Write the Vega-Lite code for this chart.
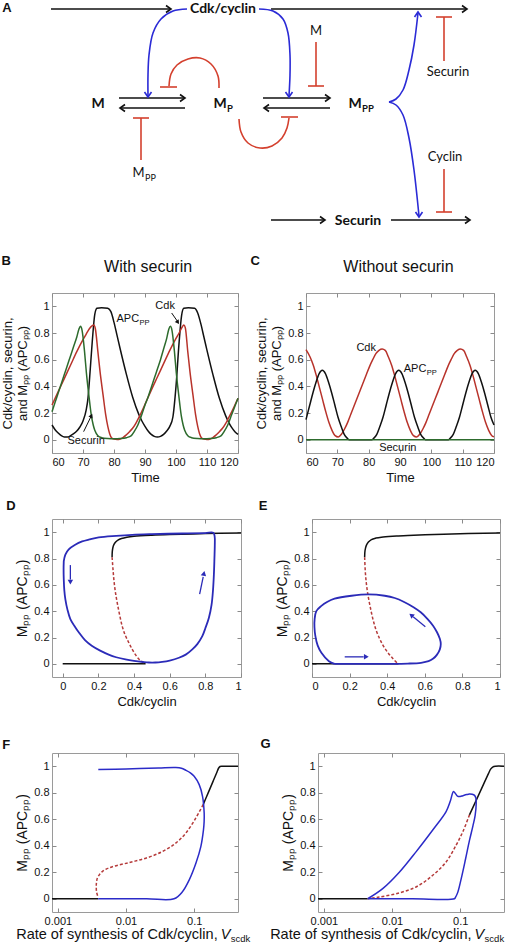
{
"$schema":"https://vega.github.io/schema/vega-lite/v6.json",
"padding":0,
"background":"white",
"config":{
 "font":"Liberation Sans",
 "view":{"stroke":"#9a9a9a","strokeWidth":1},
 "axis":{"domain":false,"grid":false,"tickSize":-4,"tickColor":"#8a8a8a","tickWidth":1,"labelPadding":7,"labelFont":"Liberation Sans","labelFontSize":11,"labelColor":"#111","titleFont":"Liberation Sans","titleFontSize":13,"titleFontWeight":"normal","titleColor":"#111","titlePadding":4},
 "text":{"font":"Liberation Sans","fontSize":11,"color":"#111"}
},
"datasets":{
 "diagLines":[
  {"id":"f1","i":0,"x":50,"y":9,"k":"flow"},{"id":"f1","i":1,"x":170,"y":9,"k":"flow"},
  {"id":"f2","i":0,"x":270,"y":9,"k":"flow"},{"id":"f2","i":1,"x":466,"y":9,"k":"flow"},
  {"id":"f3","i":0,"x":118,"y":98,"k":"flow"},{"id":"f3","i":1,"x":184,"y":98,"k":"flow"},
  {"id":"f4","i":0,"x":184,"y":108,"k":"flow"},{"id":"f4","i":1,"x":119,"y":108,"k":"flow"},
  {"id":"f5","i":0,"x":262,"y":98,"k":"flow"},{"id":"f5","i":1,"x":329,"y":98,"k":"flow"},
  {"id":"f6","i":0,"x":329,"y":108,"k":"flow"},{"id":"f6","i":1,"x":263,"y":108,"k":"flow"},
  {"id":"f7","i":0,"x":270,"y":220,"k":"flow"},{"id":"f7","i":1,"x":324,"y":220,"k":"flow"},
  {"id":"f8","i":0,"x":390,"y":220,"k":"flow"},{"id":"f8","i":1,"x":469,"y":220,"k":"flow"},
  {"id":"a1","i":0,"x":186,"y":9,"k":"act"},{"id":"a1","i":1,"x":172,"y":11,"k":"act"},{"id":"a1","i":2,"x":160,"y":19,"k":"act"},{"id":"a1","i":3,"x":152,"y":33,"k":"act"},{"id":"a1","i":4,"x":148,"y":55,"k":"act"},{"id":"a1","i":5,"x":147,"y":75,"k":"act"},{"id":"a1","i":6,"x":147,"y":96,"k":"act"},
  {"id":"a2","i":0,"x":258,"y":9,"k":"act"},{"id":"a2","i":1,"x":272,"y":11,"k":"act"},{"id":"a2","i":2,"x":282,"y":19,"k":"act"},{"id":"a2","i":3,"x":287,"y":33,"k":"act"},{"id":"a2","i":4,"x":289,"y":55,"k":"act"},{"id":"a2","i":5,"x":289,"y":75,"k":"act"},{"id":"a2","i":6,"x":288,"y":96,"k":"act"},
  {"id":"a3","i":0,"x":388,"y":102,"k":"act"},{"id":"a3","i":1,"x":395,"y":99,"k":"act"},{"id":"a3","i":2,"x":402,"y":90,"k":"act"},{"id":"a3","i":3,"x":408,"y":70,"k":"act"},{"id":"a3","i":4,"x":413,"y":45,"k":"act"},{"id":"a3","i":5,"x":417,"y":13,"k":"act"},
  {"id":"a4","i":0,"x":388,"y":102,"k":"act"},{"id":"a4","i":1,"x":395,"y":105,"k":"act"},{"id":"a4","i":2,"x":402,"y":115,"k":"act"},{"id":"a4","i":3,"x":408,"y":138,"k":"act"},{"id":"a4","i":4,"x":413,"y":170,"k":"act"},{"id":"a4","i":5,"x":418,"y":216,"k":"act"},
  {"id":"r1","i":0,"x":218,"y":88,"k":"inh"},{"id":"r1","i":1,"x":217,"y":76,"k":"inh"},{"id":"r1","i":2,"x":210,"y":64,"k":"inh"},{"id":"r1","i":3,"x":199,"y":58,"k":"inh"},{"id":"r1","i":4,"x":187,"y":59,"k":"inh"},{"id":"r1","i":5,"x":176,"y":65,"k":"inh"},{"id":"r1","i":6,"x":170,"y":74,"k":"inh"},{"id":"r1","i":7,"x":168,"y":86,"k":"inh"},
  {"id":"r1b","i":0,"x":159,"y":87,"k":"inh"},{"id":"r1b","i":1,"x":176,"y":87,"k":"inh"},
  {"id":"r2","i":0,"x":238,"y":119,"k":"inh"},{"id":"r2","i":1,"x":240,"y":132,"k":"inh"},{"id":"r2","i":2,"x":247,"y":143,"k":"inh"},{"id":"r2","i":3,"x":259,"y":148,"k":"inh"},{"id":"r2","i":4,"x":271,"y":146,"k":"inh"},{"id":"r2","i":5,"x":281,"y":138,"k":"inh"},{"id":"r2","i":6,"x":286,"y":128,"k":"inh"},{"id":"r2","i":7,"x":288,"y":118,"k":"inh"},
  {"id":"r2b","i":0,"x":280,"y":117,"k":"inh"},{"id":"r2b","i":1,"x":297,"y":117,"k":"inh"},
  {"id":"r3","i":0,"x":315,"y":42,"k":"inh"},{"id":"r3","i":1,"x":315,"y":86,"k":"inh"},
  {"id":"r3b","i":0,"x":307,"y":86,"k":"inh"},{"id":"r3b","i":1,"x":323,"y":86,"k":"inh"},
  {"id":"r4","i":0,"x":140,"y":160,"k":"inh"},{"id":"r4","i":1,"x":140,"y":118,"k":"inh"},
  {"id":"r4b","i":0,"x":132,"y":118,"k":"inh"},{"id":"r4b","i":1,"x":148,"y":118,"k":"inh"},
  {"id":"r5","i":0,"x":443,"y":61,"k":"inh"},{"id":"r5","i":1,"x":443,"y":17,"k":"inh"},
  {"id":"r5b","i":0,"x":435,"y":17,"k":"inh"},{"id":"r5b","i":1,"x":451,"y":17,"k":"inh"},
  {"id":"r6","i":0,"x":443,"y":169,"k":"inh"},{"id":"r6","i":1,"x":443,"y":212,"k":"inh"},
  {"id":"r6b","i":0,"x":435,"y":212,"k":"inh"},{"id":"r6b","i":1,"x":451,"y":212,"k":"inh"}
 ],
 "diagHeads":[
  {"x":170,"y":9,"d":"right"},{"x":466,"y":9,"d":"right"},{"x":184,"y":98,"d":"right"},{"x":329,"y":98,"d":"right"},{"x":324,"y":220,"d":"right"},{"x":469,"y":220,"d":"right"},
  {"x":119,"y":108,"d":"left"},{"x":263,"y":108,"d":"left"},
  {"x":147,"y":97,"d":"down"},{"x":288,"y":97,"d":"down"},{"x":418,"y":217,"d":"down"},
  {"x":417,"y":12,"d":"up"}
 ],
 "diagBold":[{"x":222,"y":9,"txt":"Cdk/cyclin"},{"x":97,"y":104,"txt":"M"},{"x":219,"y":104,"txt":"M"},{"x":354,"y":104,"txt":"M"},{"x":357,"y":221,"txt":"Securin"}],
 "diagBoldSub":[{"x":226,"y":108.5,"txt":"P"},{"x":361,"y":108.5,"txt":"PP"}],
 "diagReg":[{"x":315,"y":31,"txt":"M"},{"x":137.5,"y":173,"txt":"M"},{"x":447,"y":72,"txt":"Securin"},{"x":444,"y":157,"txt":"Cyclin"}],
 "diagRegSub":[{"x":144,"y":178,"txt":"PP"}],
 "bTS":[
  {"t":60,"v":0.11,"s":"APC"},{"t":61,"v":0.075,"s":"APC"},{"t":62,"v":0.05,"s":"APC"},{"t":63,"v":0.03,"s":"APC"},{"t":64,"v":0.02,"s":"APC"},{"t":65,"v":0.02,"s":"APC"},{"t":66,"v":0.03,"s":"APC"},{"t":67,"v":0.045,"s":"APC"},{"t":68,"v":0.065,"s":"APC"},{"t":69,"v":0.095,"s":"APC"},{"t":70,"v":0.14,"s":"APC"},{"t":71,"v":0.22,"s":"APC"},{"t":71.6,"v":0.31,"s":"APC"},{"t":72,"v":0.42,"s":"APC"},{"t":73,"v":0.74,"s":"APC"},{"t":73.8,"v":0.94,"s":"APC"},{"t":74.5,"v":0.985,"s":"APC"},{"t":76,"v":0.99,"s":"APC"},{"t":78,"v":0.985,"s":"APC"},{"t":79,"v":0.96,"s":"APC"},{"t":80,"v":0.88,"s":"APC"},{"t":81,"v":0.78,"s":"APC"},{"t":82,"v":0.68,"s":"APC"},{"t":84,"v":0.49,"s":"APC"},{"t":86,"v":0.32,"s":"APC"},{"t":88,"v":0.19,"s":"APC"},{"t":89,"v":0.14,"s":"APC"},{"t":90,"v":0.1,"s":"APC"},{"t":91,"v":0.065,"s":"APC"},{"t":92,"v":0.04,"s":"APC"},{"t":93,"v":0.025,"s":"APC"},{"t":94,"v":0.02,"s":"APC"},{"t":95,"v":0.025,"s":"APC"},{"t":96,"v":0.04,"s":"APC"},{"t":97,"v":0.065,"s":"APC"},{"t":98,"v":0.1,"s":"APC"},{"t":99,"v":0.17,"s":"APC"},{"t":100,"v":0.4,"s":"APC"},{"t":101,"v":0.73,"s":"APC"},{"t":101.8,"v":0.93,"s":"APC"},{"t":102.5,"v":0.985,"s":"APC"},{"t":104,"v":0.99,"s":"APC"},{"t":106,"v":0.985,"s":"APC"},{"t":107,"v":0.95,"s":"APC"},{"t":108,"v":0.87,"s":"APC"},{"t":109,"v":0.77,"s":"APC"},{"t":110,"v":0.67,"s":"APC"},{"t":112,"v":0.48,"s":"APC"},{"t":114,"v":0.31,"s":"APC"},{"t":116,"v":0.18,"s":"APC"},{"t":117,"v":0.13,"s":"APC"},{"t":118,"v":0.09,"s":"APC"},{"t":119,"v":0.06,"s":"APC"},{"t":120,"v":0.04,"s":"APC"},
  {"t":60,"v":0.26,"s":"Cdk"},{"t":62,"v":0.36,"s":"Cdk"},{"t":64,"v":0.46,"s":"Cdk"},{"t":66,"v":0.56,"s":"Cdk"},{"t":68,"v":0.66,"s":"Cdk"},{"t":70,"v":0.75,"s":"Cdk"},{"t":71,"v":0.79,"s":"Cdk"},{"t":72,"v":0.83,"s":"Cdk"},{"t":73,"v":0.855,"s":"Cdk"},{"t":73.5,"v":0.86,"s":"Cdk"},{"t":74,"v":0.83,"s":"Cdk"},{"t":74.8,"v":0.66,"s":"Cdk"},{"t":75.5,"v":0.51,"s":"Cdk"},{"t":76.5,"v":0.33,"s":"Cdk"},{"t":77.3,"v":0.19,"s":"Cdk"},{"t":78,"v":0.1,"s":"Cdk"},{"t":78.6,"v":0.045,"s":"Cdk"},{"t":79.2,"v":0.015,"s":"Cdk"},{"t":80,"v":0.004,"s":"Cdk"},{"t":81,"v":0.001,"s":"Cdk"},{"t":82,"v":0.005,"s":"Cdk"},{"t":83,"v":0.017,"s":"Cdk"},{"t":84,"v":0.037,"s":"Cdk"},{"t":85,"v":0.06,"s":"Cdk"},{"t":86,"v":0.085,"s":"Cdk"},{"t":87,"v":0.12,"s":"Cdk"},{"t":88,"v":0.165,"s":"Cdk"},{"t":90,"v":0.265,"s":"Cdk"},{"t":92,"v":0.37,"s":"Cdk"},{"t":94,"v":0.47,"s":"Cdk"},{"t":96,"v":0.57,"s":"Cdk"},{"t":98,"v":0.67,"s":"Cdk"},{"t":100,"v":0.76,"s":"Cdk"},{"t":101,"v":0.8,"s":"Cdk"},{"t":102,"v":0.845,"s":"Cdk"},{"t":102.5,"v":0.86,"s":"Cdk"},{"t":103,"v":0.84,"s":"Cdk"},{"t":103.8,"v":0.66,"s":"Cdk"},{"t":104.5,"v":0.51,"s":"Cdk"},{"t":105.5,"v":0.33,"s":"Cdk"},{"t":106.3,"v":0.19,"s":"Cdk"},{"t":107,"v":0.1,"s":"Cdk"},{"t":107.6,"v":0.045,"s":"Cdk"},{"t":108.2,"v":0.015,"s":"Cdk"},{"t":109,"v":0.004,"s":"Cdk"},{"t":110,"v":0.001,"s":"Cdk"},{"t":111,"v":0.005,"s":"Cdk"},{"t":112,"v":0.017,"s":"Cdk"},{"t":113,"v":0.037,"s":"Cdk"},{"t":114,"v":0.06,"s":"Cdk"},{"t":115,"v":0.085,"s":"Cdk"},{"t":116,"v":0.12,"s":"Cdk"},{"t":117,"v":0.165,"s":"Cdk"},{"t":118,"v":0.21,"s":"Cdk"},{"t":119,"v":0.26,"s":"Cdk"},{"t":120,"v":0.31,"s":"Cdk"},
  {"t":60,"v":0.21,"s":"Securin"},{"t":61,"v":0.28,"s":"Securin"},{"t":62,"v":0.35,"s":"Securin"},{"t":63,"v":0.42,"s":"Securin"},{"t":64,"v":0.49,"s":"Securin"},{"t":65,"v":0.56,"s":"Securin"},{"t":66,"v":0.63,"s":"Securin"},{"t":67,"v":0.7,"s":"Securin"},{"t":68,"v":0.77,"s":"Securin"},{"t":68.7,"v":0.83,"s":"Securin"},{"t":69.2,"v":0.85,"s":"Securin"},{"t":69.7,"v":0.82,"s":"Securin"},{"t":70.5,"v":0.66,"s":"Securin"},{"t":71.1,"v":0.5,"s":"Securin"},{"t":71.6,"v":0.39,"s":"Securin"},{"t":72.2,"v":0.27,"s":"Securin"},{"t":72.7,"v":0.18,"s":"Securin"},{"t":73.3,"v":0.11,"s":"Securin"},{"t":73.8,"v":0.07,"s":"Securin"},{"t":74.8,"v":0.03,"s":"Securin"},{"t":76,"v":0.015,"s":"Securin"},{"t":78,"v":0.008,"s":"Securin"},{"t":80,"v":0.006,"s":"Securin"},{"t":82,"v":0.008,"s":"Securin"},{"t":84,"v":0.015,"s":"Securin"},{"t":85.6,"v":0.03,"s":"Securin"},{"t":86.5,"v":0.06,"s":"Securin"},{"t":87.7,"v":0.11,"s":"Securin"},{"t":89,"v":0.19,"s":"Securin"},{"t":90,"v":0.26,"s":"Securin"},{"t":91,"v":0.32,"s":"Securin"},{"t":92,"v":0.39,"s":"Securin"},{"t":93,"v":0.46,"s":"Securin"},{"t":94,"v":0.53,"s":"Securin"},{"t":95,"v":0.6,"s":"Securin"},{"t":96,"v":0.68,"s":"Securin"},{"t":97,"v":0.76,"s":"Securin"},{"t":97.7,"v":0.83,"s":"Securin"},{"t":98.2,"v":0.85,"s":"Securin"},{"t":98.7,"v":0.82,"s":"Securin"},{"t":99.5,"v":0.66,"s":"Securin"},{"t":100.1,"v":0.5,"s":"Securin"},{"t":100.6,"v":0.39,"s":"Securin"},{"t":101.2,"v":0.27,"s":"Securin"},{"t":101.7,"v":0.18,"s":"Securin"},{"t":102.3,"v":0.11,"s":"Securin"},{"t":102.8,"v":0.07,"s":"Securin"},{"t":103.8,"v":0.03,"s":"Securin"},{"t":105,"v":0.015,"s":"Securin"},{"t":107,"v":0.008,"s":"Securin"},{"t":109,"v":0.006,"s":"Securin"},{"t":111,"v":0.008,"s":"Securin"},{"t":113,"v":0.015,"s":"Securin"},{"t":114.6,"v":0.03,"s":"Securin"},{"t":115.5,"v":0.06,"s":"Securin"},{"t":116.7,"v":0.11,"s":"Securin"},{"t":118,"v":0.19,"s":"Securin"},{"t":119,"v":0.25,"s":"Securin"},{"t":120,"v":0.31,"s":"Securin"}
 ],
 "bArrows":[{"t":98.6,"v":0.95,"id":"cdk"},{"t":100.4,"v":0.89,"id":"cdk"},{"t":70.2,"v":0.06,"id":"sec"},{"t":72.5,"v":0.17,"id":"sec"}],
 "cTS":[
  {"t":60,"v":0.675,"s":"Cdk"},{"t":61.3,"v":0.62,"s":"Cdk"},{"t":62.3,"v":0.56,"s":"Cdk"},{"t":63.3,"v":0.48,"s":"Cdk"},{"t":64.3,"v":0.39,"s":"Cdk"},{"t":65.3,"v":0.3,"s":"Cdk"},{"t":66.3,"v":0.21,"s":"Cdk"},{"t":67.3,"v":0.13,"s":"Cdk"},{"t":68.3,"v":0.07,"s":"Cdk"},{"t":69.3,"v":0.03,"s":"Cdk"},{"t":70.3,"v":0.02,"s":"Cdk"},{"t":71.3,"v":0.04,"s":"Cdk"},{"t":72.3,"v":0.08,"s":"Cdk"},{"t":73.3,"v":0.13,"s":"Cdk"},{"t":74.3,"v":0.19,"s":"Cdk"},{"t":75.3,"v":0.25,"s":"Cdk"},{"t":76.3,"v":0.31,"s":"Cdk"},{"t":77.3,"v":0.37,"s":"Cdk"},{"t":78.3,"v":0.43,"s":"Cdk"},{"t":79.3,"v":0.49,"s":"Cdk"},{"t":80.3,"v":0.55,"s":"Cdk"},{"t":81.3,"v":0.6,"s":"Cdk"},{"t":82.3,"v":0.645,"s":"Cdk"},{"t":83.3,"v":0.67,"s":"Cdk"},{"t":84.3,"v":0.68,"s":"Cdk"},{"t":85.3,"v":0.67,"s":"Cdk"},{"t":86.3,"v":0.62,"s":"Cdk"},{"t":87.3,"v":0.56,"s":"Cdk"},{"t":88.3,"v":0.48,"s":"Cdk"},{"t":89.3,"v":0.39,"s":"Cdk"},{"t":90.3,"v":0.3,"s":"Cdk"},{"t":91.3,"v":0.21,"s":"Cdk"},{"t":92.3,"v":0.13,"s":"Cdk"},{"t":93.3,"v":0.07,"s":"Cdk"},{"t":94.3,"v":0.03,"s":"Cdk"},{"t":95.3,"v":0.02,"s":"Cdk"},{"t":96.3,"v":0.04,"s":"Cdk"},{"t":97.3,"v":0.08,"s":"Cdk"},{"t":98.3,"v":0.13,"s":"Cdk"},{"t":99.3,"v":0.19,"s":"Cdk"},{"t":100.3,"v":0.25,"s":"Cdk"},{"t":101.3,"v":0.31,"s":"Cdk"},{"t":102.3,"v":0.37,"s":"Cdk"},{"t":103.3,"v":0.43,"s":"Cdk"},{"t":104.3,"v":0.49,"s":"Cdk"},{"t":105.3,"v":0.55,"s":"Cdk"},{"t":106.3,"v":0.6,"s":"Cdk"},{"t":107.3,"v":0.645,"s":"Cdk"},{"t":108.3,"v":0.67,"s":"Cdk"},{"t":109.3,"v":0.68,"s":"Cdk"},{"t":110.3,"v":0.67,"s":"Cdk"},{"t":111.3,"v":0.62,"s":"Cdk"},{"t":112.3,"v":0.56,"s":"Cdk"},{"t":113.3,"v":0.48,"s":"Cdk"},{"t":114.3,"v":0.39,"s":"Cdk"},{"t":115.3,"v":0.3,"s":"Cdk"},{"t":116.3,"v":0.21,"s":"Cdk"},{"t":117.3,"v":0.13,"s":"Cdk"},{"t":118.3,"v":0.07,"s":"Cdk"},{"t":119.3,"v":0.03,"s":"Cdk"},{"t":120,"v":0.022,"s":"Cdk"},
  {"t":60,"v":0.15,"s":"APC"},{"t":61.2,"v":0.26,"s":"APC"},{"t":62.2,"v":0.35,"s":"APC"},{"t":63.2,"v":0.43,"s":"APC"},{"t":64.2,"v":0.495,"s":"APC"},{"t":65.2,"v":0.52,"s":"APC"},{"t":66.2,"v":0.495,"s":"APC"},{"t":67.2,"v":0.43,"s":"APC"},{"t":68.2,"v":0.35,"s":"APC"},{"t":69.2,"v":0.26,"s":"APC"},{"t":70.2,"v":0.17,"s":"APC"},{"t":71.2,"v":0.1,"s":"APC"},{"t":72.2,"v":0.04,"s":"APC"},{"t":73.2,"v":0.01,"s":"APC"},{"t":73.7,"v":0,"s":"APC"},{"t":81.1,"v":0,"s":"APC"},{"t":81.6,"v":0.01,"s":"APC"},{"t":82.6,"v":0.04,"s":"APC"},{"t":83.6,"v":0.1,"s":"APC"},{"t":84.6,"v":0.17,"s":"APC"},{"t":85.6,"v":0.26,"s":"APC"},{"t":86.6,"v":0.35,"s":"APC"},{"t":87.6,"v":0.43,"s":"APC"},{"t":88.6,"v":0.495,"s":"APC"},{"t":89.6,"v":0.52,"s":"APC"},{"t":90.6,"v":0.495,"s":"APC"},{"t":91.6,"v":0.43,"s":"APC"},{"t":92.6,"v":0.35,"s":"APC"},{"t":93.6,"v":0.26,"s":"APC"},{"t":94.6,"v":0.17,"s":"APC"},{"t":95.6,"v":0.1,"s":"APC"},{"t":96.6,"v":0.04,"s":"APC"},{"t":97.6,"v":0.01,"s":"APC"},{"t":98.1,"v":0,"s":"APC"},{"t":105.5,"v":0,"s":"APC"},{"t":106,"v":0.01,"s":"APC"},{"t":107,"v":0.04,"s":"APC"},{"t":108,"v":0.1,"s":"APC"},{"t":109,"v":0.17,"s":"APC"},{"t":110,"v":0.26,"s":"APC"},{"t":111,"v":0.35,"s":"APC"},{"t":112,"v":0.43,"s":"APC"},{"t":113,"v":0.495,"s":"APC"},{"t":114,"v":0.52,"s":"APC"},{"t":115,"v":0.495,"s":"APC"},{"t":116,"v":0.43,"s":"APC"},{"t":117,"v":0.35,"s":"APC"},{"t":118,"v":0.26,"s":"APC"},{"t":119,"v":0.17,"s":"APC"},{"t":120,"v":0.11,"s":"APC"},
  {"t":60,"v":0,"s":"Securin"},{"t":120,"v":0,"s":"Securin"}
 ],
 "dPP":[
  {"c":0,"v":0,"g":"lo","i":0},{"c":0.465,"v":0,"g":"lo","i":1},
  {"c":0.277,"v":0.81,"g":"hi","i":0},{"c":0.278,"v":0.85,"g":"hi","i":1},{"c":0.281,"v":0.88,"g":"hi","i":2},{"c":0.287,"v":0.905,"g":"hi","i":3},{"c":0.297,"v":0.925,"g":"hi","i":4},{"c":0.31,"v":0.94,"g":"hi","i":5},{"c":0.33,"v":0.952,"g":"hi","i":6},{"c":0.36,"v":0.962,"g":"hi","i":7},{"c":0.4,"v":0.969,"g":"hi","i":8},{"c":0.5,"v":0.977,"g":"hi","i":9},{"c":0.6,"v":0.982,"g":"hi","i":10},{"c":0.8,"v":0.989,"g":"hi","i":11},{"c":1.0,"v":0.993,"g":"hi","i":12},
  {"c":0.277,"v":0.81,"g":"uns","i":0},{"c":0.282,"v":0.72,"g":"uns","i":1},{"c":0.287,"v":0.64,"g":"uns","i":2},{"c":0.295,"v":0.55,"g":"uns","i":3},{"c":0.305,"v":0.47,"g":"uns","i":4},{"c":0.318,"v":0.38,"g":"uns","i":5},{"c":0.333,"v":0.29,"g":"uns","i":6},{"c":0.35,"v":0.22,"g":"uns","i":7},{"c":0.371,"v":0.16,"g":"uns","i":8},{"c":0.39,"v":0.11,"g":"uns","i":9},{"c":0.408,"v":0.07,"g":"uns","i":10},{"c":0.428,"v":0.035,"g":"uns","i":11},{"c":0.446,"v":0.015,"g":"uns","i":12},{"c":0.464,"v":0,"g":"uns","i":13},
  {"c":0.006,"v":0.78,"g":"cyc","i":0},{"c":0.015,"v":0.83,"g":"cyc","i":1},{"c":0.034,"v":0.87,"g":"cyc","i":2},{"c":0.07,"v":0.905,"g":"cyc","i":3},{"c":0.109,"v":0.93,"g":"cyc","i":4},{"c":0.15,"v":0.945,"g":"cyc","i":5},{"c":0.202,"v":0.96,"g":"cyc","i":6},{"c":0.3,"v":0.972,"g":"cyc","i":7},{"c":0.39,"v":0.98,"g":"cyc","i":8},{"c":0.5,"v":0.985,"g":"cyc","i":9},{"c":0.67,"v":0.99,"g":"cyc","i":10},{"c":0.8,"v":0.993,"g":"cyc","i":11},{"c":0.845,"v":0.995,"g":"cyc","i":12},{"c":0.852,"v":0.97,"g":"cyc","i":13},{"c":0.853,"v":0.9,"g":"cyc","i":14},{"c":0.851,"v":0.8,"g":"cyc","i":15},{"c":0.848,"v":0.68,"g":"cyc","i":16},{"c":0.843,"v":0.56,"g":"cyc","i":17},{"c":0.835,"v":0.45,"g":"cyc","i":18},{"c":0.82,"v":0.35,"g":"cyc","i":19},{"c":0.8,"v":0.27,"g":"cyc","i":20},{"c":0.783,"v":0.21,"g":"cyc","i":21},{"c":0.755,"v":0.15,"g":"cyc","i":22},{"c":0.727,"v":0.11,"g":"cyc","i":23},{"c":0.69,"v":0.07,"g":"cyc","i":24},{"c":0.652,"v":0.046,"g":"cyc","i":25},{"c":0.6,"v":0.025,"g":"cyc","i":26},{"c":0.558,"v":0.015,"g":"cyc","i":27},{"c":0.52,"v":0.01,"g":"cyc","i":28},{"c":0.483,"v":0.01,"g":"cyc","i":29},{"c":0.45,"v":0.014,"g":"cyc","i":30},{"c":0.4,"v":0.022,"g":"cyc","i":31},{"c":0.352,"v":0.033,"g":"cyc","i":32},{"c":0.3,"v":0.05,"g":"cyc","i":33},{"c":0.258,"v":0.07,"g":"cyc","i":34},{"c":0.21,"v":0.1,"g":"cyc","i":35},{"c":0.165,"v":0.135,"g":"cyc","i":36},{"c":0.125,"v":0.18,"g":"cyc","i":37},{"c":0.09,"v":0.24,"g":"cyc","i":38},{"c":0.065,"v":0.29,"g":"cyc","i":39},{"c":0.043,"v":0.34,"g":"cyc","i":40},{"c":0.027,"v":0.41,"g":"cyc","i":41},{"c":0.015,"v":0.49,"g":"cyc","i":42},{"c":0.009,"v":0.56,"g":"cyc","i":43},{"c":0.006,"v":0.64,"g":"cyc","i":44},{"c":0.005,"v":0.72,"g":"cyc","i":45},{"c":0.006,"v":0.78,"g":"cyc","i":46}
 ],
 "dArrows":[{"c":0.043,"v":0.75,"id":"a"},{"c":0.043,"v":0.64,"id":"a"},{"c":0.768,"v":0.53,"id":"b"},{"c":0.788,"v":0.66,"id":"b"}],
 "ePP":[
  {"c":0,"v":0,"g":"lo","i":0},{"c":0.46,"v":0,"g":"lo","i":1},
  {"c":0.28,"v":0.81,"g":"hi","i":0},{"c":0.282,"v":0.86,"g":"hi","i":1},{"c":0.289,"v":0.9,"g":"hi","i":2},{"c":0.3,"v":0.925,"g":"hi","i":3},{"c":0.316,"v":0.944,"g":"hi","i":4},{"c":0.34,"v":0.955,"g":"hi","i":5},{"c":0.369,"v":0.962,"g":"hi","i":6},{"c":0.45,"v":0.97,"g":"hi","i":7},{"c":0.51,"v":0.975,"g":"hi","i":8},{"c":0.7,"v":0.985,"g":"hi","i":9},{"c":1.0,"v":0.993,"g":"hi","i":10},
  {"c":0.28,"v":0.81,"g":"uns","i":0},{"c":0.284,"v":0.69,"g":"uns","i":1},{"c":0.29,"v":0.6,"g":"uns","i":2},{"c":0.298,"v":0.52,"g":"uns","i":3},{"c":0.31,"v":0.43,"g":"uns","i":4},{"c":0.324,"v":0.34,"g":"uns","i":5},{"c":0.34,"v":0.26,"g":"uns","i":6},{"c":0.36,"v":0.19,"g":"uns","i":7},{"c":0.38,"v":0.135,"g":"uns","i":8},{"c":0.404,"v":0.084,"g":"uns","i":9},{"c":0.43,"v":0.04,"g":"uns","i":10},{"c":0.457,"v":0,"g":"uns","i":11},
  {"c":0.12,"v":0,"g":"cyc","i":0},{"c":0.09,"v":0.02,"g":"cyc","i":1},{"c":0.05,"v":0.084,"g":"cyc","i":2},{"c":0.03,"v":0.14,"g":"cyc","i":3},{"c":0.018,"v":0.21,"g":"cyc","i":4},{"c":0.013,"v":0.28,"g":"cyc","i":5},{"c":0.014,"v":0.34,"g":"cyc","i":6},{"c":0.023,"v":0.4,"g":"cyc","i":7},{"c":0.05,"v":0.44,"g":"cyc","i":8},{"c":0.08,"v":0.47,"g":"cyc","i":9},{"c":0.12,"v":0.495,"g":"cyc","i":10},{"c":0.21,"v":0.517,"g":"cyc","i":11},{"c":0.3,"v":0.527,"g":"cyc","i":12},{"c":0.387,"v":0.517,"g":"cyc","i":13},{"c":0.44,"v":0.5,"g":"cyc","i":14},{"c":0.49,"v":0.47,"g":"cyc","i":15},{"c":0.54,"v":0.43,"g":"cyc","i":16},{"c":0.58,"v":0.39,"g":"cyc","i":17},{"c":0.615,"v":0.34,"g":"cyc","i":18},{"c":0.644,"v":0.29,"g":"cyc","i":19},{"c":0.665,"v":0.24,"g":"cyc","i":20},{"c":0.68,"v":0.19,"g":"cyc","i":21},{"c":0.685,"v":0.15,"g":"cyc","i":22},{"c":0.68,"v":0.11,"g":"cyc","i":23},{"c":0.665,"v":0.07,"g":"cyc","i":24},{"c":0.645,"v":0.04,"g":"cyc","i":25},{"c":0.62,"v":0.02,"g":"cyc","i":26},{"c":0.58,"v":0.008,"g":"cyc","i":27},{"c":0.51,"v":0.002,"g":"cyc","i":28},{"c":0.4,"v":0,"g":"cyc","i":29},{"c":0.3,"v":0,"g":"cyc","i":30},{"c":0.2,"v":0,"g":"cyc","i":31},{"c":0.12,"v":0,"g":"cyc","i":32}
 ],
 "eArrows":[{"c":0.174,"v":0.053,"id":"a"},{"c":0.275,"v":0.053,"id":"a"},{"c":0.603,"v":0.282,"id":"b"},{"c":0.538,"v":0.357,"id":"b"}],
 "fBif":[
  {"V":0.00082,"v":0,"g":"lo","i":0},{"V":0.0039,"v":0,"g":"lo","i":1},
  {"V":0.1355,"v":0.71,"g":"hi","i":0},{"V":0.16,"v":0.797,"g":"hi","i":1},{"V":0.19,"v":0.888,"g":"hi","i":2},{"V":0.215,"v":0.953,"g":"hi","i":3},{"V":0.228,"v":0.985,"g":"hi","i":4},{"V":0.24,"v":0.998,"g":"hi","i":5},{"V":0.26,"v":1.0,"g":"hi","i":6},{"V":0.44,"v":1.0,"g":"hi","i":7},
  {"V":0.1355,"v":0.71,"g":"uns","i":0},{"V":0.106,"v":0.61,"g":"uns","i":1},{"V":0.0753,"v":0.495,"g":"uns","i":2},{"V":0.0537,"v":0.42,"g":"uns","i":3},{"V":0.0342,"v":0.356,"g":"uns","i":4},{"V":0.0195,"v":0.306,"g":"uns","i":5},{"V":0.0111,"v":0.273,"g":"uns","i":6},{"V":0.0063,"v":0.242,"g":"uns","i":7},{"V":0.0052,"v":0.225,"g":"uns","i":8},{"V":0.00449,"v":0.205,"g":"uns","i":9},{"V":0.00405,"v":0.18,"g":"uns","i":10},{"V":0.00379,"v":0.154,"g":"uns","i":11},{"V":0.00368,"v":0.12,"g":"uns","i":12},{"V":0.00366,"v":0.091,"g":"uns","i":13},{"V":0.0037,"v":0.05,"g":"uns","i":14},{"V":0.00392,"v":0.008,"g":"uns","i":15},
  {"V":0.00392,"v":0.975,"g":"cyc","i":0},{"V":0.01,"v":0.98,"g":"cyc","i":1},{"V":0.03,"v":0.987,"g":"cyc","i":2},{"V":0.0537,"v":0.99,"g":"cyc","i":3},{"V":0.065,"v":0.985,"g":"cyc","i":4},{"V":0.0753,"v":0.97,"g":"cyc","i":5},{"V":0.088,"v":0.95,"g":"cyc","i":6},{"V":0.1,"v":0.924,"g":"cyc","i":7},{"V":0.1186,"v":0.861,"g":"cyc","i":8},{"V":0.1327,"v":0.773,"g":"cyc","i":9},{"V":0.1403,"v":0.646,"g":"cyc","i":10},{"V":0.14,"v":0.58,"g":"cyc","i":11},{"V":0.137,"v":0.52,"g":"cyc","i":12},{"V":0.1253,"v":0.394,"g":"cyc","i":13},{"V":0.106,"v":0.268,"g":"cyc","i":14},{"V":0.0844,"v":0.141,"g":"cyc","i":15},{"V":0.0673,"v":0.053,"g":"cyc","i":16},{"V":0.0507,"v":0,"g":"cyc","i":17},{"V":0.02,"v":0,"g":"cyc","i":18},{"V":0.0039,"v":0,"g":"cyc","i":19}
 ],
 "gBif":[
  {"V":0.00082,"v":0,"g":"lo","i":0},{"V":0.0044,"v":0,"g":"lo","i":1},
  {"V":0.137,"v":0.633,"g":"hi","i":0},{"V":0.18,"v":0.765,"g":"hi","i":1},{"V":0.22,"v":0.863,"g":"hi","i":2},{"V":0.26,"v":0.944,"g":"hi","i":3},{"V":0.28,"v":0.978,"g":"hi","i":4},{"V":0.3,"v":0.994,"g":"hi","i":5},{"V":0.33,"v":1.0,"g":"hi","i":6},{"V":0.44,"v":1.0,"g":"hi","i":7},
  {"V":0.137,"v":0.633,"g":"uns","i":0},{"V":0.1096,"v":0.506,"g":"uns","i":1},{"V":0.0873,"v":0.405,"g":"uns","i":2},{"V":0.0622,"v":0.278,"g":"uns","i":3},{"V":0.0396,"v":0.177,"g":"uns","i":4},{"V":0.0225,"v":0.089,"g":"uns","i":5},{"V":0.0115,"v":0.038,"g":"uns","i":6},{"V":0.0065,"v":0.013,"g":"uns","i":7},{"V":0.0044,"v":0,"g":"uns","i":8},
  {"V":0.0044,"v":0,"g":"cyc","i":0},{"V":0.0073,"v":0.076,"g":"cyc","i":1},{"V":0.0128,"v":0.2,"g":"cyc","i":2},{"V":0.0225,"v":0.354,"g":"cyc","i":3},{"V":0.0396,"v":0.519,"g":"cyc","i":4},{"V":0.0622,"v":0.658,"g":"cyc","i":5},{"V":0.072,"v":0.74,"g":"cyc","i":6},{"V":0.0798,"v":0.81,"g":"cyc","i":7},{"V":0.085,"v":0.795,"g":"cyc","i":8},{"V":0.0912,"v":0.775,"g":"cyc","i":9},{"V":0.1,"v":0.772,"g":"cyc","i":10},{"V":0.1096,"v":0.778,"g":"cyc","i":11},{"V":0.125,"v":0.786,"g":"cyc","i":12},{"V":0.137,"v":0.79,"g":"cyc","i":13},{"V":0.15,"v":0.788,"g":"cyc","i":14},{"V":0.1626,"v":0.78,"g":"cyc","i":15},{"V":0.17,"v":0.76,"g":"cyc","i":16},{"V":0.172,"v":0.72,"g":"cyc","i":17},{"V":0.166,"v":0.63,"g":"cyc","i":18},{"V":0.154,"v":0.55,"g":"cyc","i":19},{"V":0.137,"v":0.44,"g":"cyc","i":20},{"V":0.12,"v":0.3,"g":"cyc","i":21},{"V":0.1035,"v":0.15,"g":"cyc","i":22},{"V":0.0925,"v":0.05,"g":"cyc","i":23},{"V":0.0853,"v":0.01,"g":"cyc","i":24},{"V":0.0824,"v":0,"g":"cyc","i":25},{"V":0.02,"v":0,"g":"cyc","i":26},{"V":0.0044,"v":0,"g":"cyc","i":27}
 ]
},
"vconcat":[
 {"vconcat":[
  {"width":454,"height":240,"view":{"stroke":null},
   "layer":[
    {"data":{"name":"diagLines"},"transform":[{"filter":"datum.k === 'flow'"}],"mark":{"type":"line","color":"#111","strokeWidth":1.6},
     "encoding":{"x":{"field":"x","type":"quantitative","scale":{"domain":[51,505],"nice":false,"zero":false},"axis":null},"y":{"field":"y","type":"quantitative","scale":{"domain":[0,240],"nice":false,"zero":false,"reverse":true},"axis":null},"detail":{"field":"id"},"order":{"field":"i"}}},
    {"data":{"name":"diagLines"},"transform":[{"filter":"datum.k === 'act'"}],"mark":{"type":"line","color":"#2b2bd6","strokeWidth":1.6,"interpolate":"catmull-rom"},
     "encoding":{"x":{"field":"x","type":"quantitative","axis":null},"y":{"field":"y","type":"quantitative","axis":null},"detail":{"field":"id"},"order":{"field":"i"}}},
    {"data":{"name":"diagLines"},"transform":[{"filter":"datum.k === 'inh'"}],"mark":{"type":"line","color":"#d4402e","strokeWidth":1.6,"interpolate":"catmull-rom"},
     "encoding":{"x":{"field":"x","type":"quantitative","axis":null},"y":{"field":"y","type":"quantitative","axis":null},"detail":{"field":"id"},"order":{"field":"i"}}},
    {"data":{"name":"diagHeads"},"transform":[{"filter":"datum.d === 'right'"}],"mark":{"type":"point","shape":"M-1,-0.7L0,0L-1,0.7","filled":false,"strokeWidth":1.6,"size":100,"angle":0,"opacity":1,"color":"#111"},
     "encoding":{"x":{"field":"x","type":"quantitative","axis":null},"y":{"field":"y","type":"quantitative","axis":null}}},
    {"data":{"name":"diagHeads"},"transform":[{"filter":"datum.d === 'left'"}],"mark":{"type":"point","shape":"M-1,-0.7L0,0L-1,0.7","filled":false,"strokeWidth":1.6,"size":100,"angle":180,"opacity":1,"color":"#111"},
     "encoding":{"x":{"field":"x","type":"quantitative","axis":null},"y":{"field":"y","type":"quantitative","axis":null}}},
    {"data":{"name":"diagHeads"},"transform":[{"filter":"datum.d === 'down'"}],"mark":{"type":"point","shape":"M-1,-0.7L0,0L-1,0.7","filled":false,"strokeWidth":1.6,"size":100,"angle":90,"opacity":1,"color":"#2b2bd6"},
     "encoding":{"x":{"field":"x","type":"quantitative","axis":null},"y":{"field":"y","type":"quantitative","axis":null}}},
    {"data":{"name":"diagHeads"},"transform":[{"filter":"datum.d === 'up'"}],"mark":{"type":"point","shape":"M-1,-0.7L0,0L-1,0.7","filled":false,"strokeWidth":1.6,"size":100,"angle":270,"opacity":1,"color":"#2b2bd6"},
     "encoding":{"x":{"field":"x","type":"quantitative","axis":null},"y":{"field":"y","type":"quantitative","axis":null}}},
    {"data":{"name":"diagBold"},"mark":{"type":"text","font":"Lato","fontWeight":"bold","fontSize":14,"align":"center","baseline":"middle","color":"#111"},
     "encoding":{"x":{"field":"x","type":"quantitative","axis":null},"y":{"field":"y","type":"quantitative","axis":null},"text":{"field":"txt"}}},
    {"data":{"name":"diagBoldSub"},"mark":{"type":"text","font":"Lato","fontWeight":"bold","fontSize":9.5,"align":"left","baseline":"middle","color":"#111"},
     "encoding":{"x":{"field":"x","type":"quantitative","axis":null},"y":{"field":"y","type":"quantitative","axis":null},"text":{"field":"txt"}}},
    {"data":{"name":"diagReg"},"mark":{"type":"text","font":"Lato","fontSize":13,"align":"center","baseline":"middle","color":"#111"},
     "encoding":{"x":{"field":"x","type":"quantitative","axis":null},"y":{"field":"y","type":"quantitative","axis":null},"text":{"field":"txt"}}},
    {"data":{"name":"diagRegSub"},"mark":{"type":"text","font":"Lato","fontSize":9,"align":"left","baseline":"middle","color":"#111"},
     "encoding":{"x":{"field":"x","type":"quantitative","axis":null},"y":{"field":"y","type":"quantitative","axis":null},"text":{"field":"txt"}}},
    {"data":{"values":[{}]},"mark":{"type":"text","fontWeight":"bold","fontSize":13,"align":"center","baseline":"middle"},
     "encoding":{"x":{"datum":6,"axis":null},"y":{"datum":8,"axis":null},"text":{"value":"A"}}}
   ]},
  {"hconcat":[
   {"width":186,"height":160,
    "layer":[
     {"data":{"name":"bTS"},"mark":{"type":"line","interpolate":"monotone","strokeWidth":1.5},
      "encoding":{"x":{"field":"t","type":"quantitative","scale":{"domain":[60,120],"nice":false,"zero":false},"axis":{"orient":"bottom","values":[60,70,80,90,100,110,120],"title":"Time"}},
       "y":{"field":"v","type":"quantitative","scale":{"domain":[-0.1,1.1],"nice":false,"zero":false},"axis":{"orient":"left","values":[0,0.2,0.4,0.6,0.8,1],"format":"~g","title":["Cdk/cyclin, securin,","and Mₚₚ (APCₚₚ)"]}},
       "color":{"field":"s","type":"nominal","scale":{"domain":["APC","Cdk","Securin"],"range":["#111111","#b8332b","#2d6b2d"]},"legend":null}}},
     {"data":{"name":"bArrows"},"mark":{"type":"line","color":"#111","strokeWidth":1},
      "encoding":{"x":{"field":"t","type":"quantitative","axis":null},"y":{"field":"v","type":"quantitative","axis":null},"detail":{"field":"id"}}},
     {"data":{"values":[{}]},"mark":{"type":"point","shape":"triangle-up","filled":true,"size":22,"angle":146,"color":"#111","opacity":1},"encoding":{"x":{"datum":100.6,"axis":null},"y":{"datum":0.88,"axis":null}}},
     {"data":{"values":[{}]},"mark":{"type":"point","shape":"triangle-up","filled":true,"size":22,"angle":26,"color":"#111","opacity":1},"encoding":{"x":{"datum":72.7,"axis":null},"y":{"datum":0.18,"axis":null}}},
     {"data":{"values":[{}]},"mark":{"type":"text","align":"left","baseline":"middle","fontSize":11},"encoding":{"x":{"datum":80.8,"axis":null},"y":{"datum":0.905,"axis":null},"text":{"value":"APC"}}},
     {"data":{"values":[{}]},"mark":{"type":"text","align":"left","baseline":"middle","fontSize":7.5,"dx":23,"dy":4},"encoding":{"x":{"datum":80.8,"axis":null},"y":{"datum":0.905,"axis":null},"text":{"value":"PP"}}},
     {"data":{"values":[{}]},"mark":{"type":"text","align":"center","baseline":"middle","fontSize":11},"encoding":{"x":{"datum":96.5,"axis":null},"y":{"datum":1.0,"axis":null},"text":{"value":"Cdk"}}},
     {"data":{"values":[{}]},"mark":{"type":"text","align":"center","baseline":"middle","fontSize":11},"encoding":{"x":{"datum":71,"axis":null},"y":{"datum":-0.01,"axis":null},"text":{"value":"Securin"}}},
     {"data":{"values":[{}]},"mark":{"type":"text","align":"center","baseline":"middle","fontSize":13,"fontWeight":"bold"},"encoding":{"x":{"datum":45.2,"axis":null},"y":{"datum":1.337,"axis":null},"text":{"value":"B"}}},
     {"data":{"values":[{}]},"mark":{"type":"text","align":"center","baseline":"middle","fontSize":16},"encoding":{"x":{"datum":91,"axis":null},"y":{"datum":1.298,"axis":null},"text":{"value":"With securin"}}},
     {"data":{"name":"bTS"},"mark":{"type":"point","opacity":0,"size":0},
      "encoding":{"x":{"field":"t","type":"quantitative","axis":{"orient":"top","labels":false,"title":null,"values":[60,70,80,90,100,110,120]}},"y":{"field":"v","type":"quantitative","axis":{"orient":"right","labels":false,"title":null,"values":[0,0.2,0.4,0.6,0.8,1]}}}}
    ]},
   {"width":188,"height":160,
    "layer":[
     {"data":{"name":"cTS"},"mark":{"type":"line","interpolate":"monotone","strokeWidth":1.5},
      "encoding":{"x":{"field":"t","type":"quantitative","scale":{"domain":[60,120],"nice":false,"zero":false},"axis":{"orient":"bottom","values":[60,70,80,90,100,110,120],"title":"Time"}},
       "y":{"field":"v","type":"quantitative","scale":{"domain":[-0.1,1.1],"nice":false,"zero":false},"axis":{"orient":"left","values":[0,0.2,0.4,0.6,0.8,1],"format":"~g","title":["Cdk/cyclin, securin,","and Mₚₚ (APCₚₚ)"]}},
       "color":{"field":"s","type":"nominal","scale":{"domain":["APC","Cdk","Securin"],"range":["#111111","#b8332b","#2d6b2d"]},"legend":null}}},
     {"data":{"values":[{}]},"mark":{"type":"text","align":"center","baseline":"middle","fontSize":11},"encoding":{"x":{"datum":79.2,"axis":null},"y":{"datum":0.69,"axis":null},"text":{"value":"Cdk"}}},
     {"data":{"values":[{}]},"mark":{"type":"text","align":"left","baseline":"middle","fontSize":11},"encoding":{"x":{"datum":91.2,"axis":null},"y":{"datum":0.53,"axis":null},"text":{"value":"APC"}}},
     {"data":{"values":[{}]},"mark":{"type":"text","align":"left","baseline":"middle","fontSize":7.5,"dx":23,"dy":4},"encoding":{"x":{"datum":91.2,"axis":null},"y":{"datum":0.53,"axis":null},"text":{"value":"PP"}}},
     {"data":{"values":[{}]},"mark":{"type":"text","align":"center","baseline":"middle","fontSize":11},"encoding":{"x":{"datum":89.3,"axis":null},"y":{"datum":-0.06,"axis":null},"text":{"value":"Securin"}}},
     {"data":{"values":[{}]},"mark":{"type":"text","align":"center","baseline":"middle","fontSize":13,"fontWeight":"bold"},"encoding":{"x":{"datum":43.8,"axis":null},"y":{"datum":1.337,"axis":null},"text":{"value":"C"}}},
     {"data":{"values":[{}]},"mark":{"type":"text","align":"center","baseline":"middle","fontSize":16},"encoding":{"x":{"datum":89.5,"axis":null},"y":{"datum":1.298,"axis":null},"text":{"value":"Without securin"}}},
     {"data":{"name":"cTS"},"mark":{"type":"point","opacity":0,"size":0},
      "encoding":{"x":{"field":"t","type":"quantitative","axis":{"orient":"top","labels":false,"title":null,"values":[60,70,80,90,100,110,120]}},"y":{"field":"v","type":"quantitative","axis":{"orient":"right","labels":false,"title":null,"values":[0,0.2,0.4,0.6,0.8,1]}}}}
    ]}
  ],"spacing":8}
 ],"spacing":14},
 {"vconcat":[
  {"hconcat":[
   {"width":189,"height":158,
    "layer":[
     {"data":{"name":"dPP"},"transform":[{"filter":"datum.g === 'lo' || datum.g === 'hi'"}],"mark":{"type":"line","color":"#111","strokeWidth":1.5,"interpolate":"catmull-rom"},
      "encoding":{"x":{"field":"c","type":"quantitative","scale":{"domain":[-0.06,1],"nice":false,"zero":false},"axis":{"orient":"bottom","values":[0,0.2,0.4,0.6,0.8,1],"format":"~g","title":"Cdk/cyclin"}},
       "y":{"field":"v","type":"quantitative","scale":{"domain":[-0.1,1.1],"nice":false,"zero":false},"axis":{"orient":"left","values":[0,0.2,0.4,0.6,0.8,1],"format":"~g","title":"Mₚₚ (APCₚₚ)","titleFontSize":14}},
       "detail":{"field":"g"},"order":{"field":"i"}}},
     {"data":{"name":"dPP"},"transform":[{"filter":"datum.g === 'uns'"}],"mark":{"type":"line","color":"#b53a3a","strokeWidth":1.5,"strokeDash":[3,2],"interpolate":"catmull-rom"},
      "encoding":{"x":{"field":"c","type":"quantitative","axis":null},"y":{"field":"v","type":"quantitative","axis":null},"order":{"field":"i"}}},
     {"data":{"name":"dPP"},"transform":[{"filter":"datum.g === 'cyc'"}],"mark":{"type":"line","color":"#2b2bb8","strokeWidth":1.8,"interpolate":"catmull-rom"},
      "encoding":{"x":{"field":"c","type":"quantitative","axis":null},"y":{"field":"v","type":"quantitative","axis":null},"order":{"field":"i"}}},
     {"data":{"name":"dArrows"},"mark":{"type":"line","color":"#2b2bb8","strokeWidth":1.3},
      "encoding":{"x":{"field":"c","type":"quantitative","axis":null},"y":{"field":"v","type":"quantitative","axis":null},"detail":{"field":"id"}}},
     {"data":{"values":[{}]},"mark":{"type":"point","shape":"triangle-up","filled":true,"size":30,"angle":180,"color":"#2b2bb8","opacity":1},"encoding":{"x":{"datum":0.043,"axis":null},"y":{"datum":0.62,"axis":null}}},
     {"data":{"values":[{}]},"mark":{"type":"point","shape":"triangle-up","filled":true,"size":30,"angle":12,"color":"#2b2bb8","opacity":1},"encoding":{"x":{"datum":0.792,"axis":null},"y":{"datum":0.687,"axis":null}}},
     {"data":{"values":[{}]},"mark":{"type":"text","align":"center","baseline":"middle","fontSize":13,"fontWeight":"bold"},"encoding":{"x":{"datum":-0.29,"axis":null},"y":{"datum":1.2,"axis":null},"text":{"value":"D"}}},
     {"data":{"name":"dPP"},"mark":{"type":"point","opacity":0,"size":0},
      "encoding":{"x":{"field":"c","type":"quantitative","axis":{"orient":"top","labels":false,"title":null,"values":[0,0.2,0.4,0.6,0.8,1]}},"y":{"field":"v","type":"quantitative","axis":{"orient":"right","labels":false,"title":null,"values":[0,0.2,0.4,0.6,0.8,1]}}}}
    ]},
   {"width":188,"height":158,
    "layer":[
     {"data":{"name":"ePP"},"transform":[{"filter":"datum.g === 'lo' || datum.g === 'hi'"}],"mark":{"type":"line","color":"#111","strokeWidth":1.5,"interpolate":"catmull-rom"},
      "encoding":{"x":{"field":"c","type":"quantitative","scale":{"domain":[0,1],"nice":false,"zero":false},"axis":{"orient":"bottom","values":[0,0.2,0.4,0.6,0.8,1],"format":"~g","title":"Cdk/cyclin"}},
       "y":{"field":"v","type":"quantitative","scale":{"domain":[-0.1,1.1],"nice":false,"zero":false},"axis":{"orient":"left","values":[0,0.2,0.4,0.6,0.8,1],"format":"~g","title":"Mₚₚ (APCₚₚ)","titleFontSize":14}},
       "detail":{"field":"g"},"order":{"field":"i"}}},
     {"data":{"name":"ePP"},"transform":[{"filter":"datum.g === 'uns'"}],"mark":{"type":"line","color":"#b53a3a","strokeWidth":1.5,"strokeDash":[3,2],"interpolate":"catmull-rom"},
      "encoding":{"x":{"field":"c","type":"quantitative","axis":null},"y":{"field":"v","type":"quantitative","axis":null},"order":{"field":"i"}}},
     {"data":{"name":"ePP"},"transform":[{"filter":"datum.g === 'cyc'"}],"mark":{"type":"line","color":"#2b2bb8","strokeWidth":1.8,"interpolate":"catmull-rom"},
      "encoding":{"x":{"field":"c","type":"quantitative","axis":null},"y":{"field":"v","type":"quantitative","axis":null},"order":{"field":"i"}}},
     {"data":{"name":"eArrows"},"mark":{"type":"line","color":"#2b2bb8","strokeWidth":1.3},
      "encoding":{"x":{"field":"c","type":"quantitative","axis":null},"y":{"field":"v","type":"quantitative","axis":null},"detail":{"field":"id"}}},
     {"data":{"values":[{}]},"mark":{"type":"point","shape":"triangle-up","filled":true,"size":30,"angle":90,"color":"#2b2bb8","opacity":1},"encoding":{"x":{"datum":0.289,"axis":null},"y":{"datum":0.053,"axis":null}}},
     {"data":{"values":[{}]},"mark":{"type":"point","shape":"triangle-up","filled":true,"size":30,"angle":309,"color":"#2b2bb8","opacity":1},"encoding":{"x":{"datum":0.528,"axis":null},"y":{"datum":0.369,"axis":null}}},
     {"data":{"values":[{}]},"mark":{"type":"text","align":"center","baseline":"middle","fontSize":13,"fontWeight":"bold"},"encoding":{"x":{"datum":-0.26,"axis":null},"y":{"datum":1.2,"axis":null},"text":{"value":"E"}}},
     {"data":{"name":"ePP"},"mark":{"type":"point","opacity":0,"size":0},
      "encoding":{"x":{"field":"c","type":"quantitative","axis":{"orient":"top","labels":false,"title":null,"values":[0,0.2,0.4,0.6,0.8,1]}},"y":{"field":"v","type":"quantitative","axis":{"orient":"right","labels":false,"title":null,"values":[0,0.2,0.4,0.6,0.8,1]}}}}
    ]}
  ],"spacing":13},
  {"hconcat":[
   {"width":186,"height":159,
    "layer":[
     {"data":{"name":"fBif"},"transform":[{"filter":"datum.g === 'lo' || datum.g === 'hi'"}],"mark":{"type":"line","color":"#111","strokeWidth":1.5,"interpolate":"catmull-rom"},
      "encoding":{"x":{"field":"V","type":"quantitative","scale":{"type":"log","domain":[0.00082,0.44],"nice":false},"axis":{"orient":"bottom","values":[0.001,0.01,0.1],"format":"~g","title":null}},
       "y":{"field":"v","type":"quantitative","scale":{"domain":[-0.1,1.1],"nice":false,"zero":false},"axis":{"orient":"left","values":[0,0.2,0.4,0.6,0.8,1],"format":"~g","title":"Mₚₚ (APCₚₚ)","titleFontSize":14}},
       "detail":{"field":"g"},"order":{"field":"i"}}},
     {"data":{"name":"fBif"},"transform":[{"filter":"datum.g === 'uns'"}],"mark":{"type":"line","color":"#b53a3a","strokeWidth":1.5,"strokeDash":[3,2],"interpolate":"catmull-rom"},
      "encoding":{"x":{"field":"V","type":"quantitative","axis":null},"y":{"field":"v","type":"quantitative","axis":null},"order":{"field":"i"}}},
     {"data":{"name":"fBif"},"transform":[{"filter":"datum.g === 'cyc'"}],"mark":{"type":"line","color":"#2b2bc8","strokeWidth":1.5,"interpolate":"catmull-rom"},
      "encoding":{"x":{"field":"V","type":"quantitative","axis":null},"y":{"field":"v","type":"quantitative","axis":null},"order":{"field":"i"}}},
     {"data":{"values":[{}]},"mark":{"type":"text","align":"right","baseline":"middle","fontSize":14.5,"dx":-3},"encoding":{"x":{"datum":0.245,"axis":null},"y":{"datum":-0.272,"axis":null},"text":{"value":"Rate of synthesis of Cdk/cyclin,"}}},
     {"data":{"values":[{}]},"mark":{"type":"text","align":"left","baseline":"middle","fontSize":14.5,"fontStyle":"italic"},"encoding":{"x":{"datum":0.245,"axis":null},"y":{"datum":-0.272,"axis":null},"text":{"value":"V"}}},
     {"data":{"values":[{}]},"mark":{"type":"text","align":"left","baseline":"middle","fontSize":9.5,"dx":10,"dy":4},"encoding":{"x":{"datum":0.245,"axis":null},"y":{"datum":-0.272,"axis":null},"text":{"value":"scdk"}}},
     {"data":{"values":[{}]},"mark":{"type":"text","align":"center","baseline":"middle","fontSize":13,"fontWeight":"bold"},"encoding":{"x":{"datum":0.000174,"axis":null},"y":{"datum":1.16,"axis":null},"text":{"value":"F"}}},
     {"data":{"name":"fBif"},"mark":{"type":"point","opacity":0,"size":0},
      "encoding":{"x":{"field":"V","type":"quantitative","axis":{"orient":"top","labels":false,"title":null,"values":[0.001,0.01,0.1]}},"y":{"field":"v","type":"quantitative","axis":{"orient":"right","labels":false,"title":null,"values":[0,0.2,0.4,0.6,0.8,1]}}}}
    ]},
   {"width":186,"height":159,
    "layer":[
     {"data":{"name":"gBif"},"transform":[{"filter":"datum.g === 'lo' || datum.g === 'hi'"}],"mark":{"type":"line","color":"#111","strokeWidth":1.5,"interpolate":"catmull-rom"},
      "encoding":{"x":{"field":"V","type":"quantitative","scale":{"type":"log","domain":[0.00082,0.44],"nice":false},"axis":{"orient":"bottom","values":[0.001,0.01,0.1],"format":"~g","title":null}},
       "y":{"field":"v","type":"quantitative","scale":{"domain":[-0.1,1.1],"nice":false,"zero":false},"axis":{"orient":"left","values":[0,0.2,0.4,0.6,0.8,1],"format":"~g","title":"Mₚₚ (APCₚₚ)","titleFontSize":14}},
       "detail":{"field":"g"},"order":{"field":"i"}}},
     {"data":{"name":"gBif"},"transform":[{"filter":"datum.g === 'uns'"}],"mark":{"type":"line","color":"#b53a3a","strokeWidth":1.5,"strokeDash":[3,2],"interpolate":"catmull-rom"},
      "encoding":{"x":{"field":"V","type":"quantitative","axis":null},"y":{"field":"v","type":"quantitative","axis":null},"order":{"field":"i"}}},
     {"data":{"name":"gBif"},"transform":[{"filter":"datum.g === 'cyc'"}],"mark":{"type":"line","color":"#2b2bc8","strokeWidth":1.5,"interpolate":"catmull-rom"},
      "encoding":{"x":{"field":"V","type":"quantitative","axis":null},"y":{"field":"v","type":"quantitative","axis":null},"order":{"field":"i"}}},
     {"data":{"values":[{}]},"mark":{"type":"text","align":"right","baseline":"middle","fontSize":14.5,"dx":-3},"encoding":{"x":{"datum":0.163,"axis":null},"y":{"datum":-0.272,"axis":null},"text":{"value":"Rate of synthesis of Cdk/cyclin,"}}},
     {"data":{"values":[{}]},"mark":{"type":"text","align":"left","baseline":"middle","fontSize":14.5,"fontStyle":"italic"},"encoding":{"x":{"datum":0.163,"axis":null},"y":{"datum":-0.272,"axis":null},"text":{"value":"V"}}},
     {"data":{"values":[{}]},"mark":{"type":"text","align":"left","baseline":"middle","fontSize":9.5,"dx":10,"dy":4},"encoding":{"x":{"datum":0.163,"axis":null},"y":{"datum":-0.272,"axis":null},"text":{"value":"scdk"}}},
     {"data":{"values":[{}]},"mark":{"type":"text","align":"center","baseline":"middle","fontSize":13,"fontWeight":"bold"},"encoding":{"x":{"datum":0.000139,"axis":null},"y":{"datum":1.168,"axis":null},"text":{"value":"G"}}},
     {"data":{"name":"gBif"},"mark":{"type":"point","opacity":0,"size":0},
      "encoding":{"x":{"field":"V","type":"quantitative","axis":{"orient":"top","labels":false,"title":null,"values":[0.001,0.01,0.1]}},"y":{"field":"v","type":"quantitative","axis":{"orient":"right","labels":false,"title":null,"values":[0,0.2,0.4,0.6,0.8,1]}}}}
    ]}
  ],"spacing":8}
 ],"spacing":28}
],
"spacing":14
}
